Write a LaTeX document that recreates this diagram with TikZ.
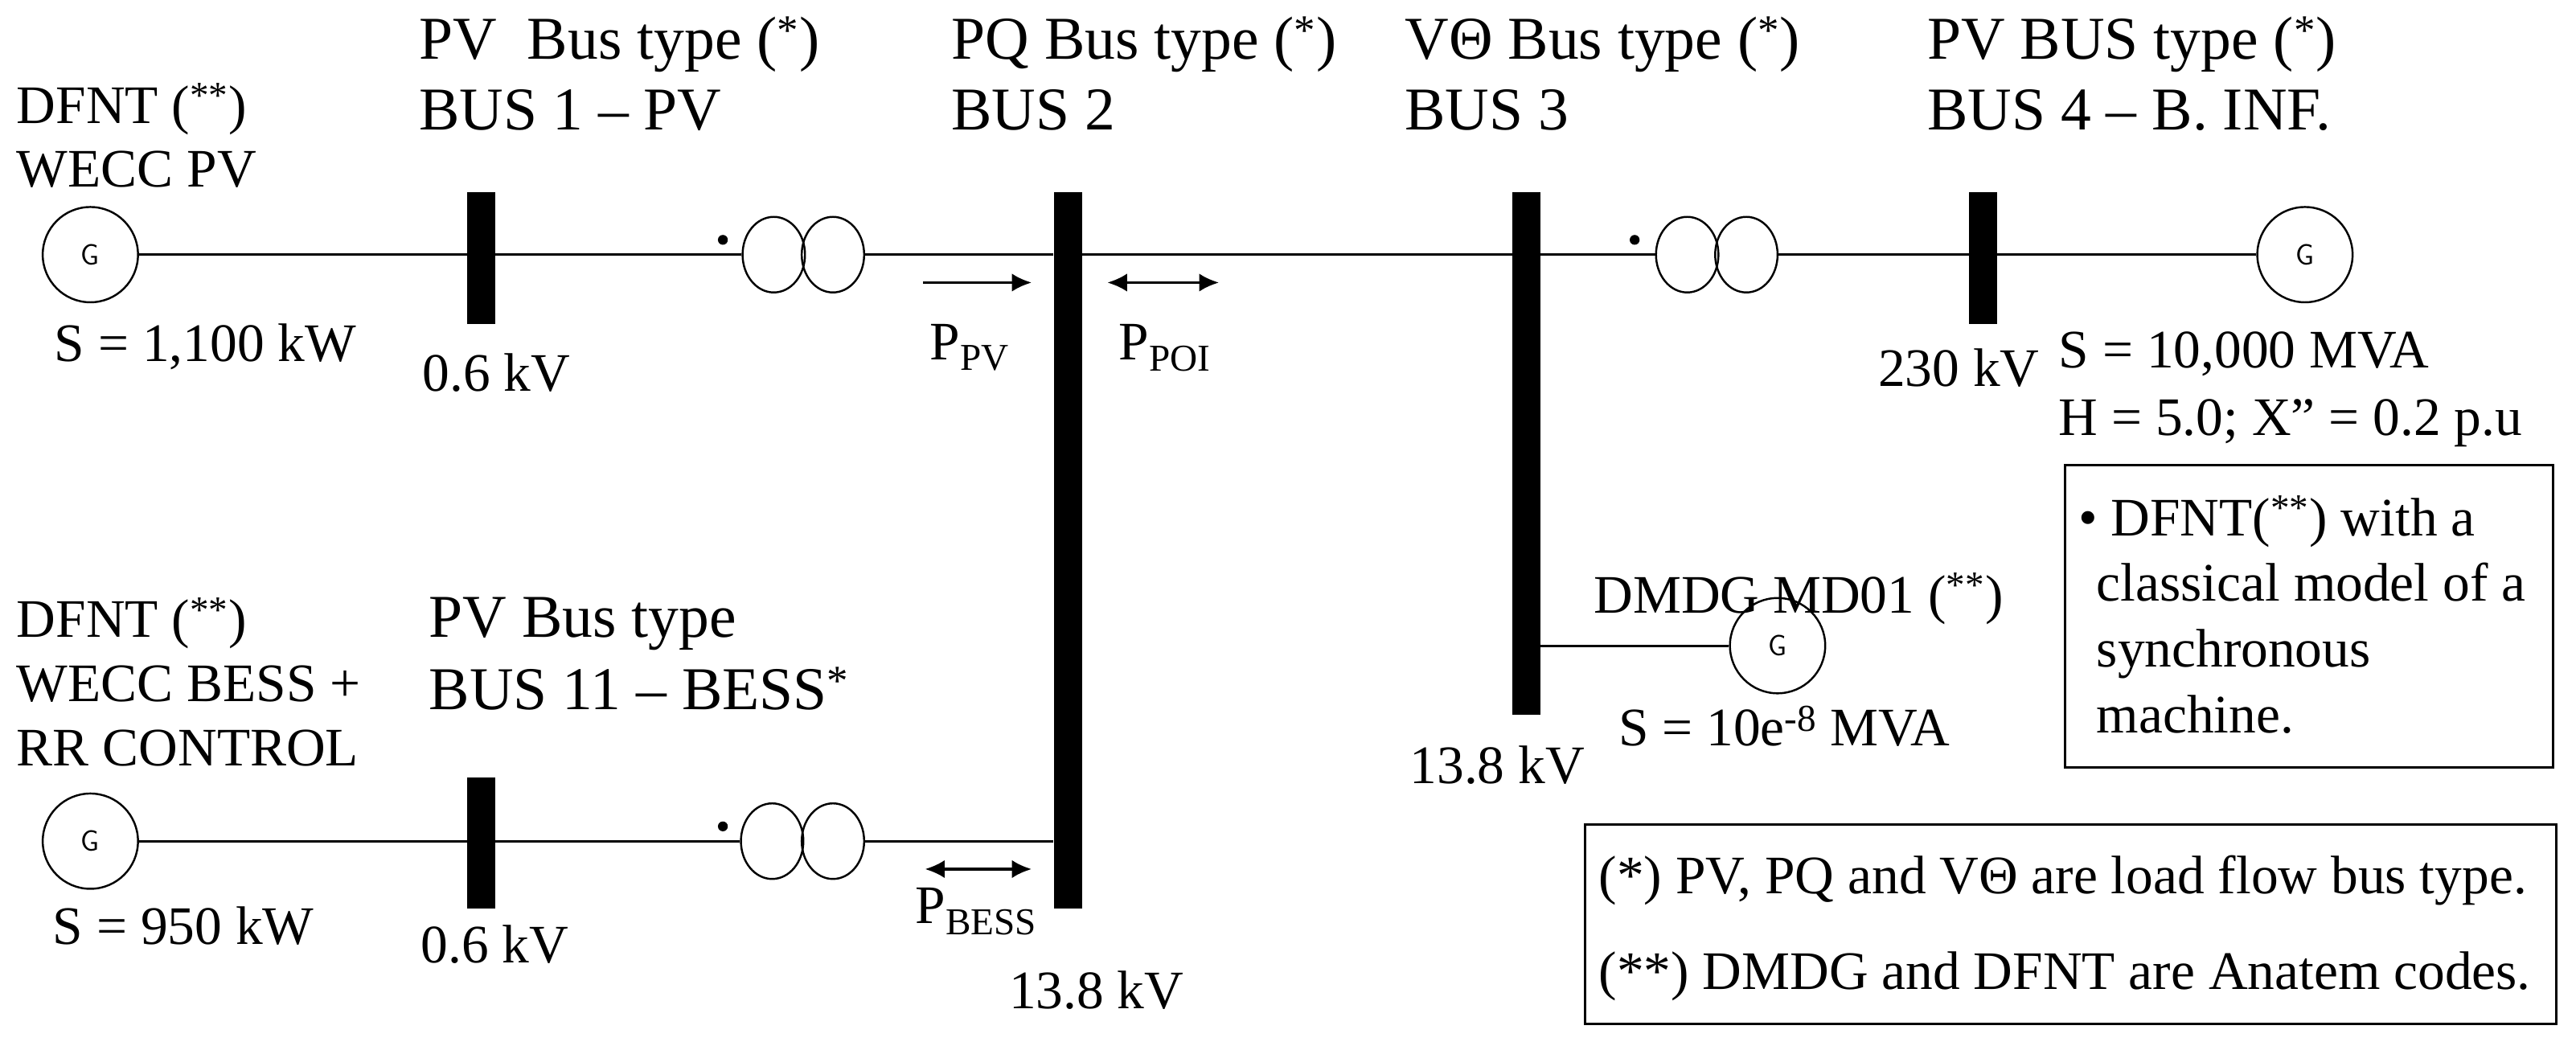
\documentclass[tikz,border=0pt]{standalone}
\usepackage{fontspec}
\setmainfont{Liberation Serif}
\usetikzlibrary{arrows.meta,shapes.geometric}
\begin{document}
\fontsize{37pt}{40pt}\selectfont
\begin{tikzpicture}[x=1pt,y=-1pt,
  txt/.style={anchor=base west,inner sep=0pt},
  sm/.style={txt,font=\fontsize{33pt}{36pt}\selectfont},
  bar/.style={fill=black,inner sep=0pt,minimum width=17pt},
  gen/.style={circle,draw,line width=1.2pt,minimum size=58pt,inner sep=0pt,font=\sffamily\fontsize{18pt}{18pt}\selectfont},
  tr/.style={ellipse,draw,line width=1.2pt,minimum width=38pt,minimum height=46pt,inner sep=0pt},
  ln/.style={line width=1.5pt},
  dt/.style={circle,fill=black,inner sep=0pt,minimum size=6pt},
  pa/.style={line width=1.8pt,-{Latex[length=12pt,width=11pt]}},
  pb/.style={line width=1.8pt,{Latex[length=12pt,width=11pt]}-{Latex[length=12pt,width=11pt]}},
  box/.style={draw,line width=1.5pt}]
\useasboundingbox (0,0) rectangle (1568,634);
% buses
\node[bar,minimum height=80pt] (b1) at (293,157) {};
\node[bar,minimum height=436pt] (b2) at (650,335) {};
\node[bar,minimum height=318pt] (b3) at (929,276) {};
\node[bar,minimum height=80pt] (b4) at (1207,157) {};
\node[bar,minimum height=80pt] (b11) at (293,513) {};
% generators
\node[gen] (g1) at (55,155) {G};
\node[gen] (g4) at (1403,155) {G};
\node[gen] (g3) at (1082,393) {G};
\node[gen] (g11) at (55,512) {G};
% transformers
\node[tr] (t1a) at (471,155) {}; \node[tr] (t1b) at (507,155) {};
\node[tr] (t2a) at (1027,155) {}; \node[tr] (t2b) at (1063,155) {};
\node[tr] (t3a) at (470,512) {}; \node[tr] (t3b) at (507,512) {};
\node[dt] (d1) at (440,146) {};
\node[dt] (d2) at (995,146) {};
\node[dt] (d3) at (440,503) {};
% lines
\draw[ln] (g1.east) -- (g1.east -| b1.west);
\draw[ln] (b1.east |- g1) -- (t1a.west);
\draw[ln] (t1b.east) -- (t1b.east -| b2.west);
\draw[ln] (b2.east |- t1b) -- (b3.west |- t1b);
\draw[ln] (b3.east |- t2a) -- (t2a.west);
\draw[ln] (t2b.east) -- (t2b.east -| b4.west);
\draw[ln] (b4.east |- g4) -- (g4.west);
\draw[ln] (b3.east |- g3) -- (g3.west);
\draw[ln] (g11.east) -- (g11.east -| b11.west);
\draw[ln] (b11.east |- g11) -- (t3a.west);
\draw[ln] (t3b.east) -- (t3b.east -| b2.west);
% power arrows
\coordinate (a1) at (562,172); \coordinate (a2) at (628,172);
\coordinate (a3) at (674,172); \coordinate (a4) at (742,172);
\coordinate (a5) at (563,529); \coordinate (a6) at (628,529);
\draw[pa] (a1) -- (a2);
\draw[pb] (a3) -- (a4);
\draw[pb] (a5) -- (a6);
\node[sm] (lpv) at (566,219) {P\textsubscript{PV}};
\node[sm] (lpoi) at (681,219) {P\textsubscript{POI}};
\node[sm] (lbess) at (557,562) {P\textsubscript{BESS}};
% texts top
\node[txt] (h1a) at (255,36) {PV\ \ Bus type (\textsuperscript{*})};
\node[txt] (h1b) at (255,79) {BUS 1 – PV};
\node[txt] (h2a) at (579,36) {PQ Bus type (\textsuperscript{*})};
\node[txt] (h2b) at (579,79) {BUS 2};
\node[txt] (h3a) at (855,36) {VΘ Bus type (\textsuperscript{*})};
\node[txt] (h3b) at (855,79) {BUS 3};
\node[txt] (h4a) at (1173,36) {PV BUS type (\textsuperscript{*})};
\node[txt] (h4b) at (1173,79) {BUS 4 – B. INF.};
\node[sm] (gl1) at (10,75) {DFNT (\textsuperscript{**})};
\node[sm] (gl2) at (10,114) {WECC PV};
\node[sm] (s1) at (33,220) {S = 1,100 kW};
\node[sm] (v1) at (257,238) {0.6 kV};
\node[sm] (v4) at (1143,235) {230 kV};
\node[sm] (s4a) at (1253,224) {S = 10,000 MVA};
\node[sm] (s4b) at (1253,265) {H = 5.0; X” = 0.2 p.u};
% DMDG
\node[sm] (dm) at (970,373) {DMDG MD01 (\textsuperscript{**})};
\node[sm] (s3) at (985,454) {S = 10e\textsuperscript{-8}\ MVA};
\node[sm] (v3) at (858,477) {13.8 kV};
% bottom left
\node[sm] (gb1) at (10,388) {DFNT (\textsuperscript{**})};
\node[sm] (gb2) at (10,427) {WECC BESS +};
\node[sm] (gb3) at (10,466) {RR CONTROL};
\node[txt] (hb1) at (261,388) {PV Bus type};
\node[txt] (hb2) at (261,432) {BUS 11 – BESS\textsuperscript{*}};
\node[sm] (s11) at (32,575) {S = 950 kW};
\node[sm] (v11) at (256,586) {0.6 kV};
\node[sm] (v2) at (614,614) {13.8 kV};
% boxes
\draw[box] (1257,283) rectangle (1554,467);
\node[sm] (n1) at (1265,326) {• DFNT(\textsuperscript{**}) with a};
\node[sm] (n2) at (1276,366) {classical model of a};
\node[sm] (n3) at (1276,406) {synchronous};
\node[sm] (n4) at (1276,446) {machine.};
\draw[box] (965,502) rectangle (1556,623);
\node[sm] (k1) at (973,544) {(*) PV, PQ and VΘ are load flow bus type.};
\node[sm] (k2) at (973,602) {(**) DMDG and DFNT are Anatem codes.};
\end{tikzpicture}
\end{document}
